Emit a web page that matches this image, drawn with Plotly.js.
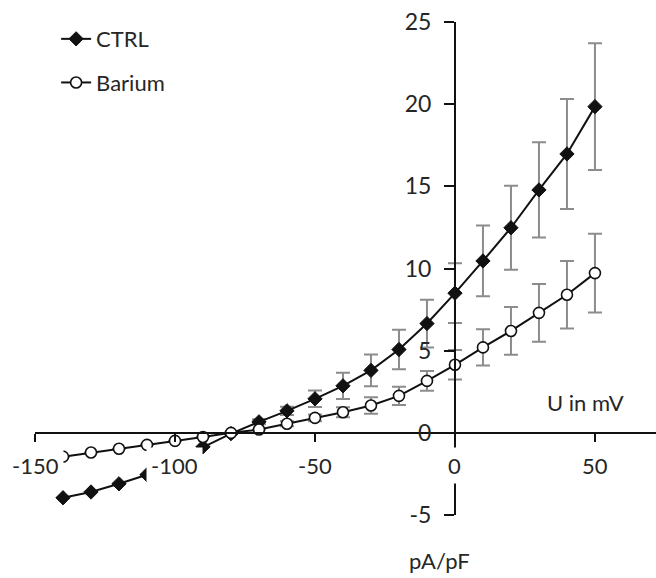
<!DOCTYPE html>
<html>
<head>
<meta charset="utf-8">
<script src="https://cdn.plot.ly/plotly-3.0.1.min.js"></script>
<style>html,body{margin:0;padding:0;background:#fff;}#chart{width:656px;height:578px;}</style>
</head>
<body>
<div id="chart"></div>
<script>
// ---- data ----
const voltage = [-140,-130,-120,-110,-100,-90,-80,-70,-60,-50,-40,-30,-20,-10,0,10,20,30,40,50];
const ctrlValues = [-3.95,-3.6,-3.1,-2.55,-1.7,-0.85,-0.05,0.67,1.34,2.07,2.86,3.8,5.07,6.65,8.5,10.46,12.48,14.78,16.97,19.85];
const ctrlErrors = [null,null,null,null,null,null,null,0.15,0.25,0.5,0.8,0.97,1.2,1.45,1.82,2.15,2.55,2.9,3.35,3.85];
const bariumValues = [-1.45,-1.2,-0.97,-0.73,-0.49,-0.25,0,0.2,0.55,0.91,1.25,1.66,2.25,3.16,4.14,5.2,6.2,7.3,8.4,9.72];
const bariumErrors = [null,null,null,null,null,null,null,null,0.15,0.2,0.3,0.5,0.55,0.6,0.9,1.1,1.45,1.75,2.05,2.4];
const seriesNames = ["CTRL","Barium"];
const xTickVals = [-150,-100,-50,0,50];
const xTickLabels = ["-150","-100","-50","0","50"];
const yTickVals = [-5,0,5,10,15,20,25];
const yTickLabels = ["-5","0","5","10","15","20","25"];
const xAxisText = "U in mV";
const yAxisText = "pA/pF";

// ---- layout helpers ----
const xRange = [-150, 71.8];
const yRange = [-5, 25];
const FONT = "Lato, 'Open Sans', sans-serif";
const TXT = "#262626";
const ERR = "#8c8c8c";

const traces = [
  {
    x: voltage, y: ctrlValues, name: seriesNames[0], type: "scatter", mode: "lines+markers",
    legendgroup: "a",
    line: {color: "#111", width: 2},
    marker: {symbol: "diamond", size: 11, color: "#111", line: {color: "#111", width: 1}},
    error_y: {type: "data", array: ctrlErrors, visible: true, color: ERR, thickness: 2, width: 7},
    cliponaxis: false
  },
  {
    x: voltage, y: bariumValues, name: seriesNames[1], type: "scatter", mode: "lines+markers",
    legendgroup: "b",
    line: {color: "#111", width: 2},
    marker: {symbol: "circle", size: 11, color: "#fff", line: {color: "#111", width: 1.6}},
    error_y: {type: "data", array: bariumErrors, visible: true, color: ERR, thickness: 2, width: 7},
    cliponaxis: false
  }
];

const annotations = xTickVals.map((v, i) => ({
  x: v, y: 0, xref: "x", yref: "y",
  text: xTickLabels[i], showarrow: false,
  xanchor: "center", yanchor: "top", yshift: -14,
  bgcolor: "#fff", borderpad: 4,
  font: {family: FONT, size: 22, color: TXT}
}));
annotations.push({
  x: 0.8857, y: 0.2292, xref: "paper", yref: "paper", text: xAxisText, showarrow: false,
  xanchor: "center", yanchor: "middle", font: {family: FONT, size: 22, color: TXT}
});
annotations.push({
  x: 0.652, y: -0.093, xref: "paper", yref: "paper", text: yAxisText, showarrow: false,
  xanchor: "center", yanchor: "middle", font: {family: FONT, size: 22, color: TXT}
});

const layout = {
  width: 656, height: 578,
  margin: {l: 35, r: 0, t: 22, b: 63, pad: 0},
  paper_bgcolor: "#fff", plot_bgcolor: "#fff",
  font: {family: FONT, size: 22, color: TXT},
  showlegend: true,
  legend: {
    x: 0.034, y: 1.008, xanchor: "left", yanchor: "top",
    bgcolor: "rgba(0,0,0,0)", borderwidth: 0,
    traceorder: "grouped", tracegroupgap: 12,
    font: {family: FONT, size: 22, color: TXT}
  },
  xaxis: {
    range: xRange, anchor: "free", position: (0 - yRange[0]) / (yRange[1] - yRange[0]),
    showgrid: false, zeroline: false, showline: true, linecolor: "#111", linewidth: 2,
    ticks: "outside", ticklen: 8, tickwidth: 2, tickcolor: "#111",
    tickmode: "array", tickvals: xTickVals, showticklabels: false
  },
  yaxis: {
    range: yRange, anchor: "free", position: (0 - xRange[0]) / (xRange[1] - xRange[0]),
    showgrid: false, zeroline: false, showline: true, linecolor: "#111", linewidth: 2,
    ticks: "outside", ticklen: 10, tickwidth: 2, tickcolor: "#111",
    tickmode: "array", tickvals: yTickVals, ticktext: yTickLabels,
    ticklabelstandoff: 8,
    tickfont: {family: FONT, size: 23, color: TXT}
  },
  annotations: annotations
};

Plotly.newPlot("chart", traces, layout, {displayModeBar: false, staticPlot: true});
</script>
</body>
</html>
